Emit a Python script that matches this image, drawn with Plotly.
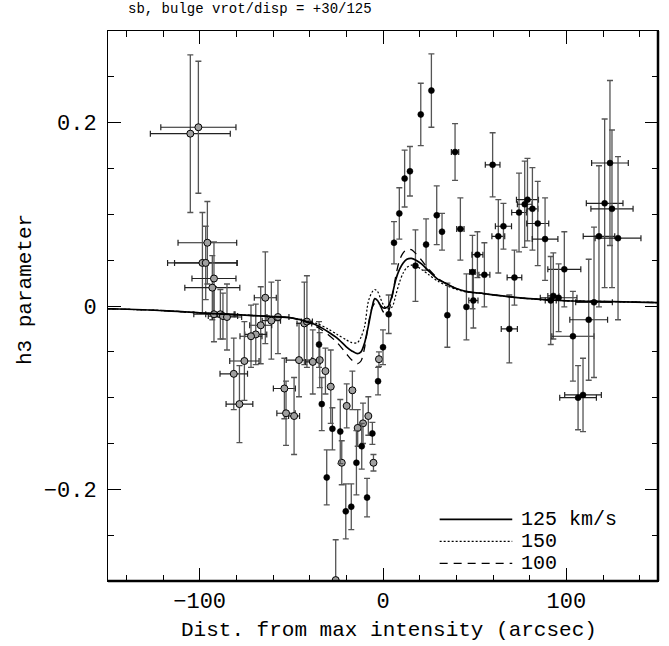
import plotly.graph_objects as go

# ---------------- data ----------------
# open-circle measurements (x arcsec, h3, x-error, h3-error)
open_x = [-105.1, -100.7, -95.8, -98.5, -96.7, -92.2, -93.1, -92.2, -88.7, -87.3, -85.1,
          -64.2, -60.9, -57.3, -66.7, -69.4, -72.0, -75.6, -81.4, -78.3,
          -53.8, -52.9, -48.5, -45.8, -42.9, -41.5, -38.3,
          -34.5, -31.4, -28.5, -22.5, -19.8, -16.7, -13.8, -10.9, -8.0, -5.2, -2.2, -25.8]
open_y = [0.188, 0.195, 0.069, 0.047, 0.047, 0.030, 0.020, -0.009, -0.009, -0.011, -0.012,
          0.009, -0.016, -0.012, -0.021, -0.031, -0.033, -0.060, -0.074, -0.107,
          -0.090, -0.117, -0.120, -0.059, -0.019, -0.017, -0.061,
          -0.059, -0.071, -0.088, -0.171, -0.109, -0.092, -0.133, -0.128, -0.120, -0.171, -0.058, -0.299]
open_ex = [21.8, 20.5, 16, 19, 17, 12, 15, 11, 8, 8, 8,
           6, 5, 6, 6, 6, 6, 8, 7.5, 7.3,
           6, 5, 3, 7, 4, 3, 4,
           0, 0, 0, 0, 0, 0, 0, 0, 0, 0, 0, 0]
open_ey = [0.086, 0.072, 0.045, 0.055, 0.040, 0.040, 0.035, 0.030, 0.027, 0.025, 0.036,
           0.050, 0.042, 0.040, 0.042, 0.033, 0.034, 0.043, 0.039, 0.042,
           0.033, 0.035, 0.042, 0.040, 0.045, 0.050, 0.035,
           0.030, 0.025, 0.040, 0.024, 0.024, 0.021, 0.020, 0.022, 0.021, 0.009, 0.008, 0.044]

# filled-circle measurements
filled_x = [-34.9, -33.4, -27.6, -30.7, -23.3, -20.3, -17.3, -14.5, -11.6, -8.7, -5.8, -2.7,
            0.0, 3.1, 6.0, 8.9, 11.8, 14.7, 17.7, 20.6, 23.5, 26.4, 29.3, 32.2, 35.1,
            39.3, 42.2, 45.5, 48.8, 49.3, 51.5, 55.3, 59.8, 62.9, 65.7, 71.7, 68.9,
            74.2, 77.3, 78.8, 81.5, 84.4, 88.4, 98.9, 92.9, 91.5, 95.8,
            103.6, 112.2, 115.1, 106.4, 109.1, 117.8, 120.9, 123.8, 124.9, 128.2]
filled_y = [-0.042, -0.107, -0.134, -0.187, -0.137, -0.224, -0.219, -0.171, -0.153, -0.209, -0.139, -0.082,
            -0.045, -0.009, 0.069, 0.101, 0.139, 0.147, 0.044, 0.209, 0.067, 0.235, 0.099, 0.081, -0.010,
            0.168, 0.084, -0.001, 0.037, 0.006, 0.056, 0.034, 0.154, 0.076, 0.087, 0.031, -0.025,
            0.102, 0.111, 0.116, 0.106, 0.090, 0.073, 0.040, 0.011, 0.006, 0.009,
            -0.033, -0.015, 0.004, -0.100, -0.097, 0.076, 0.112, 0.156, 0.106, 0.074]
filled_ex = [0, 0, 0, 0, 0, 0, 0, 0, 0, 0, 0, 0,
             0, 0, 0, 0, 0, 0, 0, 0, 0, 0, 0, 0, 0,
             2, 2, 0, 1.5, 2.5, 3, 3, 4, 3.5, 4.4, 4, 4.4,
             4, 4, 6, 3, 6, 7, 9, 3, 3, 10,
             11.5, 10.3, 10, 10, 10, 8.6, 10, 10, 11.5, 12.5]
filled_ey = [0.025, 0.029, 0.023, 0.030, 0.035, 0.030, 0.025, 0.035, 0.025, 0.021, 0.012, 0.015,
             0.019, 0.021, 0.023, 0.028, 0.031, 0.027, 0.039, 0.034, 0.028, 0.040, 0.032, 0.020, 0.035,
             0.031, 0.034, 0.036, 0.040, 0.030, 0.025, 0.035, 0.035, 0.040, 0.025, 0.030, 0.037,
             0.043, 0.047, 0.045, 0.045, 0.046, 0.045, 0.041, 0.047, 0.048, 0.037,
             0.049, 0.066, 0.082, 0.035, 0.040, 0.077, 0.092, 0.090, 0.086, 0.089]

# model curves
model_x = [-150, -120, -100, -80, -60, -50, -40, -35, -30, -25, -20, -17, -14, -12, -10, -8, -6,
           -4.5, -3, -1.5, 0, 1.5, 3, 5, 7, 9, 11, 13, 15.5, 18, 21, 25, 30, 35, 40, 45,
           55, 65, 80, 100, 125, 150]
model_125 = [-0.003, -0.005, -0.0075, -0.0095, -0.0115, -0.013, -0.018, -0.022, -0.028, -0.035,
             -0.0445, -0.049, -0.052, -0.050, -0.040, -0.022, -0.002, 0.008, 0.006, 0.001, -0.002,
             -0.002, 0.000, 0.012, 0.029, 0.040, 0.047, 0.051, 0.052, 0.050, 0.046, 0.038, 0.029,
             0.024, 0.019, 0.016, 0.0135, 0.011, 0.008, 0.0057, 0.0048, 0.0037]
model_150 = [-0.003, -0.005, -0.0075, -0.0095, -0.0115, -0.013, -0.017, -0.020, -0.025, -0.031,
             -0.037, -0.040, -0.040, -0.034, -0.022, 0.005, 0.015, 0.018, 0.016, 0.009, 0.002,
             -0.002, -0.003, -0.001, 0.012, 0.026, 0.036, 0.042, 0.0445, 0.0435, 0.040, 0.034, 0.027,
             0.022, 0.018, 0.0155, 0.0135, 0.011, 0.008, 0.0057, 0.0048, 0.0037]
model_100 = [-0.003, -0.005, -0.0075, -0.0095, -0.0115, -0.013, -0.019, -0.024, -0.031, -0.040,
             -0.052, -0.059, -0.063, -0.060, -0.045, -0.020, -0.002, 0.003, 0.002, 0.000, -0.006,
             -0.009, -0.006, 0.010, 0.033, 0.050, 0.058, 0.062, 0.0615, 0.057, 0.050, 0.040, 0.030,
             0.024, 0.019, 0.016, 0.0135, 0.011, 0.008, 0.0057, 0.0048, 0.0037]

legend_labels = ["125 km/s", "150", "100"]
title_text = "sb, bulge vrot/disp = +30/125"
x_title = "Dist. from max intensity (arcsec)"
y_title = "h3 parameter"

FONT = "Liberation Mono"

fig = go.Figure()

fig.add_trace(go.Scatter(
    x=open_x, y=open_y, mode="markers",
    marker=dict(symbol="circle", size=7, color="#a0a0a0", line=dict(color="black", width=1)),
    error_x=dict(type="data", array=open_ex, color="#222", thickness=1.2, width=3),
    error_y=dict(type="data", array=open_ey, color="#555", thickness=1.3, width=3),
    showlegend=False))

fig.add_trace(go.Scatter(
    x=filled_x, y=filled_y, mode="markers",
    marker=dict(symbol="circle", size=6, color="black", line=dict(color="black", width=0.5)),
    error_x=dict(type="data", array=filled_ex, color="#222", thickness=1.2, width=3),
    error_y=dict(type="data", array=filled_ey, color="#555", thickness=1.3, width=3),
    showlegend=False))

styles = [("solid", 1.7), ("2px,2px", 1.2), ("8px,6px", 1.3)]
for ys, (dash, w) in zip([model_125, model_150, model_100], styles):
    fig.add_trace(go.Scatter(x=model_x, y=ys, mode="lines",
                             line=dict(color="black", width=w, dash=dash, shape="spline", smoothing=0.8),
                             showlegend=False))

# legend drawn by hand (paper coordinates)
leg_y = [0.112, 0.072, 0.032]
for lab, ly, (dash, w) in zip(legend_labels, leg_y, styles):
    fig.add_shape(type="line", xref="paper", yref="paper", x0=0.603, x1=0.735, y0=ly, y1=ly,
                  line=dict(color="black", width=w, dash=dash))
    fig.add_annotation(xref="paper", yref="paper", x=0.748, y=ly, text=lab, showarrow=False,
                       xanchor="left", yanchor="middle", font=dict(family=FONT, size=20, color="black"))

# frame: thicker bottom and right
fig.add_shape(type="line", xref="paper", yref="paper", x0=0, x1=1, y0=0, y1=0,
              line=dict(color="black", width=2.5))
fig.add_shape(type="line", xref="paper", yref="paper", x0=1, x1=1, y0=0, y1=1,
              line=dict(color="black", width=2.5))

fig.add_annotation(xref="paper", yref="paper", x=0.2576, y=1, yshift=22, text=title_text,
                   showarrow=False, xanchor="center", yanchor="middle",
                   font=dict(family=FONT, size=14, color="black"))
fig.add_annotation(xref="paper", yref="paper", x=0.51, y=0, yshift=-49, text=x_title,
                   showarrow=False, xanchor="center", yanchor="middle",
                   font=dict(family=FONT, size=21, color="black"))
fig.add_annotation(xref="paper", yref="paper", x=0, xshift=-83, y=0.529, text=y_title,
                   textangle=-90, showarrow=False, xanchor="center", yanchor="middle",
                   font=dict(family=FONT, size=21, color="black"))

axis_common = dict(showline=True, linecolor="black", linewidth=1, mirror="allticks",
                   ticks="inside", tickcolor="black", tickwidth=1, ticklen=13,
                   showgrid=False, zeroline=False,
                   tickfont=dict(family=FONT, size=22, color="black"))
fig.update_xaxes(range=[-150, 150], tick0=0, dtick=100, ticklabelstandoff=0,
                 minor=dict(dtick=20, ticks="inside", ticklen=6, tickcolor="black", tickwidth=1),
                 **axis_common)
fig.update_yaxes(range=[-0.3, 0.3], tick0=0, dtick=0.2, ticklabelstandoff=6,
                 minor=dict(dtick=0.05, ticks="inside", ticklen=6, tickcolor="black", tickwidth=1),
                 **axis_common)

fig.update_layout(width=669, height=646, plot_bgcolor="white", paper_bgcolor="white",
                  margin=dict(l=108, r=11, t=31, b=65), showlegend=False)

fig.write_html("out.html", config={"displayModeBar": False},
               post_script="document.body.style.margin='0';")
